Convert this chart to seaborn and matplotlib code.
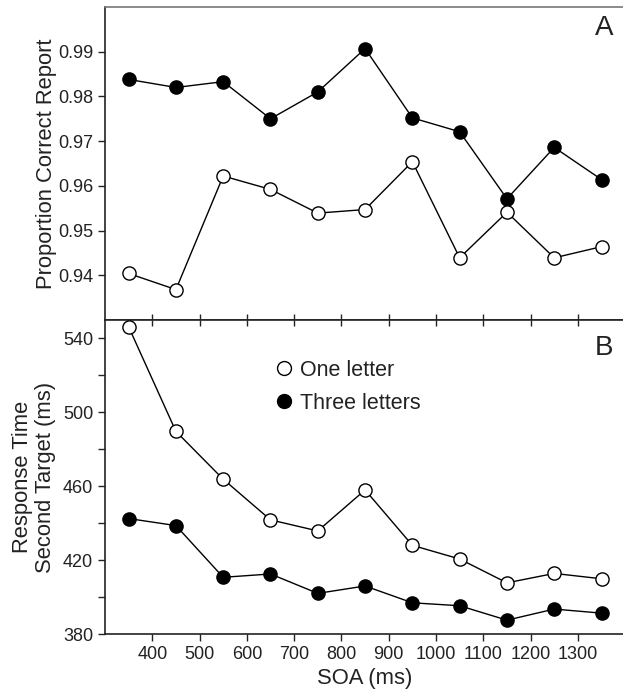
import numpy as np
import pandas as pd
import seaborn as sns
from matplotlib import pyplot as plt
from matplotlib.lines import Line2D
from matplotlib.ticker import MultipleLocator

sns.set_theme(style='ticks')
plt.rcParams['font.family'] = ['Liberation Sans', 'DejaVu Sans']

# SOA values (ms)
soa = [350, 450, 550, 650, 750, 850, 950, 1050, 1150, 1250, 1350]

# panel A: proportion correct report
acc_one = [0.9404, 0.9368, 0.9622, 0.9592, 0.9539, 0.9547, 0.9654, 0.9439, 0.9541, 0.9439, 0.9464]
acc_three = [0.9838, 0.9820, 0.9833, 0.9750, 0.9810, 0.9907, 0.9752, 0.9721, 0.9571, 0.9686, 0.9614]

# panel B: response time second target (ms)
rt_one = [546.3, 489.7, 463.8, 441.8, 435.8, 458.0, 428.0, 420.6, 407.7, 412.8, 409.9]
rt_three = [442.5, 438.7, 410.7, 412.5, 402.0, 406.0, 396.9, 395.3, 387.5, 393.5, 391.3]

xticks = [400, 500, 600, 700, 800, 900, 1000, 1100, 1200, 1300]
acc_ticks = [0.94, 0.95, 0.96, 0.97, 0.98, 0.99]
rt_ticks = [380, 420, 460, 500, 540]

fig = plt.figure(figsize=(6.23, 6.92), dpi=100)
axA = fig.add_axes([0.1685, 0.5376, 0.835, 0.4523])
axB = fig.add_axes([0.1685, 0.0838, 0.835, 0.4538])

open_kw = dict(marker='o', markersize=9.5, markerfacecolor='white',
               markeredgecolor='black', markeredgewidth=1.0, color='black', linewidth=1.0)
fill_kw = dict(marker='o', markersize=9.5, markerfacecolor='black',
               markeredgecolor='black', markeredgewidth=1.0, color='black', linewidth=1.0)

sns.lineplot(x=soa, y=acc_three, ax=axA, **fill_kw)
sns.lineplot(x=soa, y=acc_one, ax=axA, **open_kw)
sns.lineplot(x=soa, y=rt_three, ax=axB, **fill_kw)
sns.lineplot(x=soa, y=rt_one, ax=axB, **open_kw)
for ax in (axA, axB):
    for line in ax.lines:
        line.set_clip_on(False)
        line.set_zorder(5)

txt = '#222222'
axA.set_xlim(300, 1400)
axA.set_ylim(0.93, 1.00)
axA.set_yticks(acc_ticks)
axA.set_yticklabels([f'{t:.2f}' for t in acc_ticks])
axA.set_xticks(xticks)
axA.tick_params(axis='x', direction='in', labelbottom=False, length=4, width=1)
axA.tick_params(axis='y', direction='out', length=5, width=1, labelsize=13, colors=txt)
axA.set_ylabel('Proportion Correct Report', fontsize=15.8, color=txt, labelpad=1)
axA.text(0.977, 0.975, 'A', transform=axA.transAxes, ha='right', va='top', fontsize=20, color=txt)

axB.set_xlim(300, 1400)
axB.set_ylim(380, 550)
axB.set_yticks(rt_ticks)
axB.yaxis.set_minor_locator(MultipleLocator(20))
axB.set_xticks(xticks)
axB.tick_params(axis='both', which='major', direction='out', length=5, width=1, labelsize=13, colors=txt)
axB.tick_params(axis='y', which='minor', direction='out', length=5, width=1)
axB.tick_params(axis='x', top=True, direction='out')
axB.set_xlabel('SOA (ms)', fontsize=15.8, color=txt, labelpad=4)
axB.set_ylabel('Response Time\nSecond Target (ms)', fontsize=15.8, color=txt, labelpad=5, linespacing=1.15)
axB.text(0.977, 0.952, 'B', transform=axB.transAxes, ha='right', va='top', fontsize=20, color=txt)

# top ticks of panel B point inward
for t in axB.xaxis.get_major_ticks():
    t.tick2line.set_marker(3)
    t.tick2line.set_markersize(4)

for ax in (axA, axB):
    for s in ax.spines.values():
        s.set_linewidth(1.2)
        s.set_color(txt)
axA.spines['top'].set_color('#777777')

handles = [
    Line2D([], [], linestyle='none', marker='o', markersize=10, markerfacecolor='white', markeredgecolor='black'),
    Line2D([], [], linestyle='none', marker='o', markersize=10, markerfacecolor='black', markeredgecolor='black'),
]
axB.legend(handles, ['One letter', 'Three letters'], loc='upper left', bbox_to_anchor=(0.282, 0.935),
           frameon=False, fontsize=15.5, handletextpad=0.15, labelspacing=0.55, handlelength=1.2,
           labelcolor=txt)

fig.savefig('out.png', dpi=100)
